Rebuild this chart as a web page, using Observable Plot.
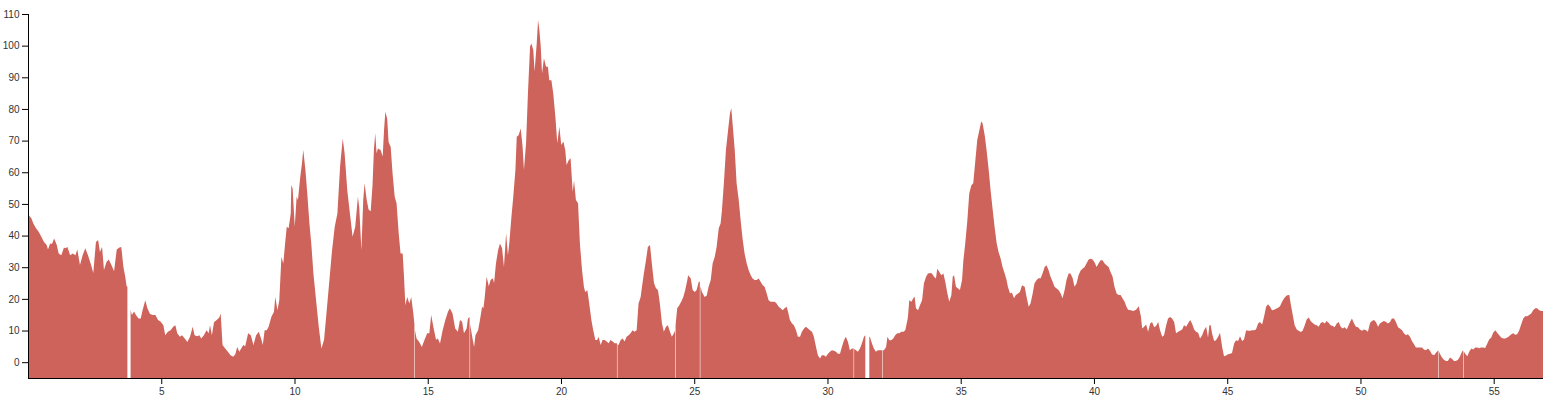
<!DOCTYPE html>
<html>
<head>
<meta charset="utf-8">
<script src="https://cdn.jsdelivr.net/npm/d3@7"></script>
<script src="https://cdn.jsdelivr.net/npm/@observablehq/plot@0.6"></script>
<style>
  html, body { margin: 0; padding: 0; background: #fff; }
  #chart svg { display: block; }
</style>
</head>
<body>
<div id="chart"></div>
<script>
// distance along the x axis and the measured value (null = missing sample)
const distance = [
0.00,0.07,0.13,0.20,0.30,0.40,0.50,0.60,0.70,0.75,0.83,0.90,0.98,1.08,1.15,1.25,1.35,1.40,1.48,1.58,1.68,1.78,1.85,1.95,2.05,2.15,2.25,2.35,2.45,2.55,2.63,2.70,2.78,2.85,2.95,3.03,3.13,3.23,3.33,3.43,3.50,3.58,3.65,3.70,3.73,3.79,
3.85,3.90,3.98,4.05,4.15,4.23,4.30,4.40,4.48,4.58,4.68,4.78,4.88,4.98,5.08,5.15,5.25,5.35,5.45,5.53,5.60,5.70,5.78,5.88,5.98,6.08,6.18,6.25,6.35,6.43,6.50,6.60,6.70,6.78,6.83,6.90,6.98,7.08,7.18,7.23,7.30,7.40,7.50,7.60,7.70,7.78,7.85,7.93,8.00,8.08,8.15,
8.26,8.36,8.46,8.56,8.66,8.76,8.81,8.88,8.96,9.03,9.13,9.23,9.28,9.36,9.43,9.51,9.58,9.66,9.71,9.78,9.86,9.88,9.93,10.01,10.08,10.13,10.21,10.28,10.33,10.41,10.48,10.56,10.63,10.71,10.81,10.91,11.01,11.11,11.21,11.31,11.41,11.51,11.61,11.71,11.81,11.88,11.98,12.08,12.18,12.28,12.38,12.43,12.51,12.58,12.63,12.71,12.78,12.86,12.93,12.98,13.03,13.08,13.13,13.23,13.31,13.36,13.41,13.48,13.53,13.61,13.68,13.76,13.83,13.91,13.98,14.06,14.11,14.16,14.23,14.31,14.38,14.46,14.50,14.51,
14.52,14.58,14.68,14.78,14.88,14.98,15.06,15.13,15.21,15.31,15.38,15.46,15.56,15.66,15.76,15.83,15.93,16.03,16.13,16.21,16.29,16.36,16.46,
16.51,16.57,16.58,16.59,16.69,16.74,16.79,16.89,16.96,17.04,17.09,17.14,17.21,17.29,17.36,17.44,17.49,17.56,17.64,17.71,17.79,17.86,17.94,18.01,18.06,18.14,18.21,18.29,18.34,18.41,18.49,18.56,18.61,18.69,18.76,18.84,18.89,18.96,19.01,19.09,19.14,19.19,19.24,19.29,19.36,19.44,19.51,19.56,19.64,19.71,19.79,19.86,19.94,20.01,20.09,20.16,20.21,20.29,20.36,20.44,20.49,20.56,20.64,20.71,20.79,20.86,20.91,20.99,21.06,21.14,21.21,21.29,21.36,21.41,21.49,21.56,21.64,21.71,21.79,21.86,21.94,22.01,22.10,22.11,
22.12,22.16,22.24,22.31,22.39,22.46,22.54,22.61,22.69,22.76,22.84,22.91,22.99,23.04,23.11,23.19,23.26,23.34,23.41,23.49,23.56,23.64,23.71,23.79,23.86,23.94,24.01,24.09,24.16,24.24,24.28,24.29,
24.30,24.36,24.44,24.51,24.59,24.66,24.74,
24.77,24.87,24.94,25.02,25.09,25.17,25.21,25.22,25.23,25.29,25.39,25.47,25.54,25.62,25.69,25.77,25.84,25.92,25.99,26.04,26.12,26.19,26.27,26.34,26.39,26.44,26.52,26.59,26.67,26.74,26.82,26.89,26.97,27.04,27.12,27.19,27.27,27.34,27.42,27.49,27.57,27.64,27.72,27.79,27.87,27.94,28.02,28.09,28.17,28.24,28.32,28.39,28.47,28.52,28.59,28.67,28.74,28.82,28.89,28.97,29.04,29.12,29.19,29.27,29.34,29.42,29.49,29.57,29.64,29.72,29.79,29.87,29.94,30.02,30.09,30.17,30.24,30.32,30.39,30.47,30.54,30.62,30.69,30.77,30.84,30.92,30.98,30.99,
31.00,31.07,31.14,31.22,31.29,31.37,31.42,31.49,31.57,31.59,31.67,31.74,31.82,31.89,31.97,32.06,32.07,32.08,32.12,32.20,32.25,32.32,32.39,32.47,32.54,32.62,32.70,32.77,32.85,32.92,33.00,
33.02,33.07,33.15,33.22,33.27,33.32,33.40,33.47,33.55,33.62,33.70,33.77,33.85,33.92,34.00,34.07,34.12,34.20,34.27,34.35,34.42,34.50,34.57,34.65,34.70,34.75,34.82,34.90,34.97,35.05,35.10,35.17,35.25,35.32,35.40,35.47,35.55,35.62,35.70,35.77,35.82,35.90,35.97,36.05,36.12,36.20,36.27,36.35,36.42,36.50,36.57,36.65,36.72,36.77,36.85,36.92,37.00,37.07,37.15,37.22,37.30,37.40,37.47,37.55,37.62,37.70,37.77,37.85,37.92,38.00,38.07,38.15,38.22,38.30,38.37,38.45,38.52,38.60,38.67,38.75,38.82,38.90,38.97,39.05,39.12,39.20,39.27,39.35,39.42,39.50,39.57,39.65,39.72,39.80,39.87,39.95,40.02,40.10,40.17,40.25,40.32,40.40,40.47,40.55,40.62,40.70,40.77,40.85,40.92,41.00,41.07,41.15,41.22,
41.28,41.38,41.48,41.58,41.68,41.76,41.81,41.88,41.96,42.03,42.11,42.18,42.26,42.33,42.41,42.48,42.56,42.63,42.71,42.78,42.86,42.93,43.01,43.08,43.16,43.23,43.31,43.38,43.46,43.53,43.61,43.68,43.76,43.83,43.91,43.98,44.06,44.13,44.21,44.28,44.33,44.38,44.43,44.51,44.58,44.66,44.73,44.81,44.88,44.96,45.03,45.11,45.18,45.26,45.33,45.41,45.48,45.56,45.63,45.71,45.78,45.86,45.93,46.01,46.08,46.16,46.23,46.31,46.38,46.46,46.53,46.61,46.68,46.76,46.83,46.91,46.98,47.06,47.13,47.21,47.28,47.33,47.38,47.46,47.53,47.61,47.68,47.76,47.83,47.91,47.98,48.06,48.13,48.21,48.28,48.36,48.43,48.51,48.58,48.66,48.73,48.81,48.88,48.96,49.03,49.11,49.18,49.26,49.33,49.41,49.49,
49.53,49.61,49.68,49.76,49.83,49.91,49.98,50.06,50.13,50.21,50.28,50.36,50.43,50.51,50.58,50.66,50.73,50.81,50.88,50.96,51.03,51.11,51.18,51.26,51.33,51.41,51.48,51.56,51.63,51.71,51.78,51.86,51.93,52.01,52.08,52.16,52.23,52.31,52.38,52.46,52.53,52.61,52.68,52.76,52.83,52.92,52.93,
52.94,52.98,53.06,53.13,53.21,53.28,53.36,53.43,53.51,53.58,53.66,53.73,53.81,53.85,53.86,
53.87,53.93,54.01,54.08,54.16,54.23,54.31,54.38,54.46,54.53,54.61,54.68,54.76,54.83,54.91,54.98,55.06,55.13,55.21,55.28,55.36,55.43,55.51,55.58,55.66,55.73,55.81,55.88,55.96,56.03,56.11,56.18,56.26,56.33,56.41,56.48,56.56,56.63,56.71,56.78,56.85
];
const value = [
46.8,46.0,45.4,43.8,42.3,41.2,39.6,38.0,37.0,35.6,37.5,37.3,39.1,37.0,34.3,33.8,36.2,36.0,36.4,33.8,34.3,33.8,35.6,30.7,33.8,36.0,33.8,31.2,28.2,38.0,38.6,34.8,36.4,29.1,31.7,32.4,30.7,28.7,35.6,36.2,36.4,30.1,27.0,24.0,23.8,null,
16.5,14.9,16.0,14.9,13.8,13.8,16.4,19.6,17.0,15.2,14.9,14.9,13.3,12.8,11.7,8.5,9.6,10.1,11.2,11.7,9.1,8.0,8.5,7.5,6.4,8.0,11.2,8.5,8.2,8.5,7.5,8.5,10.1,9.1,11.7,8.5,12.6,13.3,14.1,15.4,5.4,4.3,3.3,2.2,1.7,2.5,4.8,3.3,4.3,5.4,5.0,
9.1,8.5,5.4,8.5,9.6,7.1,5.4,10.1,10.1,11.2,14.3,15.9,20.6,16.4,19.6,33.3,31.2,38.6,42.8,42.3,47.0,55.9,54.9,42.8,52.3,51.2,58.0,62.8,67.0,60.7,53.3,43.8,37.5,28.0,19.6,11.2,4.3,7.1,16.4,25.9,35.4,42.8,47.0,61.7,70.7,66.0,54.4,47.0,39.6,42.8,52.3,48.9,35.4,51.2,56.5,51.2,48.2,47.7,56.2,67.0,72.3,66.0,67.5,67.0,65.0,73.3,79.1,76.8,69.6,68.0,59.6,52.3,50.2,40.7,34.3,34.3,26.9,18.0,20.6,18.5,20.6,15.4,12.0,null,
10.1,7.5,6.4,4.8,7.1,9.1,9.1,14.9,11.2,7.1,7.5,5.9,10.1,13.3,15.9,17.0,15.4,10.6,9.6,13.3,12.8,9.1,10.6,
13.8,14.3,null,12.0,7.0,4.8,8.5,10.1,13.3,17.5,17.0,20.6,27.0,24.0,26.0,26.5,25.0,31.2,35.4,37.5,36.0,30.1,40.7,33.8,37.5,45.9,52.3,60.7,71.2,71.7,73.8,68.0,60.7,69.2,84.9,99.7,100.7,98.6,91.8,100.7,108.1,104.9,99.7,91.2,96.0,93.3,93.3,89.1,89.1,84.9,77.5,69.2,74.4,68.6,69.7,67.0,62.3,63.8,64.4,53.8,57.4,51.2,50.2,37.5,29.1,23.8,22.2,22.7,18.5,13.3,10.1,7.0,7.0,8.0,5.4,7.0,7.0,6.5,6.0,7.0,6.5,6.0,6.0,null,
5.6,5.4,7.0,7.5,6.5,8.0,8.5,9.1,10.1,9.6,10.1,18.5,20.6,23.8,28.0,32.2,36.4,37.0,31.2,25.0,23.4,22.7,18.5,12.2,9.6,11.2,11.7,9.6,8.0,9.1,10.0,null,
11.7,17.0,18.0,19.1,20.6,22.7,25.9,
27.5,26.4,22.8,22.2,22.8,25.4,25.4,null,24.0,22.2,20.6,21.1,23.8,26.0,31.2,33.3,36.4,42.3,43.8,48.0,57.5,67.0,73.3,78.6,80.2,75.3,67.0,56.5,51.2,44.9,38.6,34.3,31.2,29.1,27.5,26.4,26.0,26.0,26.4,25.4,24.3,23.8,21.7,19.6,19.1,19.1,19.1,18.5,17.5,17.0,16.4,17.0,17.5,15.9,13.3,12.2,11.7,10.1,8.0,8.0,9.6,10.6,11.2,10.6,10.1,9.6,8.0,4.8,2.2,1.2,2.2,2.2,1.7,2.7,3.3,3.8,3.6,3.3,2.7,2.7,4.8,6.9,8.0,6.4,3.8,4.3,4.3,null,
4.2,3.8,3.3,4.3,5.9,8.0,8.5,null,8.0,8.0,5.9,4.3,3.3,3.8,3.8,3.8,null,3.8,3.8,4.8,8.0,6.9,6.9,7.5,8.5,9.1,9.1,9.6,9.6,10.1,13.3,
14.3,19.6,19.1,20.2,20.7,17.0,16.4,18.0,19.6,24.9,27.0,28.0,28.2,28.0,27.0,26.4,29.5,28.5,27.5,28.0,25.4,21.7,19.1,21.2,27.0,27.5,23.8,23.3,22.8,26.0,32.2,37.5,44.9,53.3,55.9,56.5,63.8,70.2,73.3,76.0,75.5,71.7,67.0,60.7,54.4,48.1,42.8,37.5,34.8,32.7,30.1,28.0,26.0,23.8,21.7,22.0,20.2,21.2,21.7,22.2,24.3,23.8,20.7,17.5,18.5,21.7,24.9,26.0,26.5,26.5,28.0,30.1,30.6,29.0,27.0,25.4,23.8,23.3,22.8,21.7,20.2,22.8,26.0,28.0,28.0,26.5,23.8,24.9,27.5,29.0,29.5,30.1,31.2,32.4,32.7,32.4,31.6,30.1,31.2,32.2,32.2,31.2,30.6,30.1,28.5,27.0,23.8,21.7,21.2,21.2,20.2,19.1,17.5,
16.6,16.4,16.2,16.6,17.7,14.5,10.6,11.2,11.9,9.6,12.2,12.7,11.0,11.4,12.7,10.1,8.0,8.5,11.7,13.8,14.3,13.8,12.7,9.1,9.6,9.9,10.3,11.7,11.2,12.2,13.3,12.2,10.3,9.6,9.3,7.5,8.5,10.1,11.2,7.8,11.7,11.7,9.1,6.7,6.9,8.0,9.3,4.8,1.9,2.1,2.5,2.7,2.9,5.9,6.9,6.7,8.2,6.7,7.2,10.1,9.9,9.9,10.1,10.1,10.3,12.2,12.7,11.9,14.3,17.5,18.3,17.5,16.4,16.6,16.9,17.2,17.7,19.1,20.1,20.9,21.2,21.2,18.5,14.9,11.7,10.3,9.9,9.5,9.9,11.7,13.5,14.1,13.0,12.4,11.9,11.7,11.2,12.4,12.7,12.2,13.0,12.4,11.7,11.4,11.0,12.2,12.7,11.2,10.6,11.0,10.3,
11.2,12.7,13.8,12.2,11.2,11.0,10.3,9.9,10.3,10.1,9.6,12.4,13.0,13.3,12.7,11.2,12.2,12.7,13.0,12.7,12.2,12.7,13.8,13.8,12.7,11.0,10.6,10.1,9.1,8.5,8.8,8.0,6.7,5.7,4.6,4.6,4.6,4.6,4.0,3.8,4.3,3.6,2.5,2.2,2.9,3.8,null,
3.5,2.7,1.5,0.8,0.4,0.4,1.5,1.1,0.4,0.4,0.8,1.7,3.3,3.8,null,
3.5,2.7,1.9,3.3,4.3,4.0,4.6,4.6,4.4,4.6,4.6,4.5,5.9,7.2,7.8,9.3,10.1,9.3,8.5,7.8,7.5,7.5,7.8,8.2,8.8,9.1,8.7,8.8,10.1,11.9,13.8,14.5,14.5,14.9,15.4,16.4,17.0,17.0,16.4,16.2,16.2
];
const xTicks = [5, 10, 15, 20, 25, 30, 35, 40, 45, 50, 55];
const yTicks = [0, 10, 20, 30, 40, 50, 60, 70, 80, 90, 100, 110];
const xDomain = [0, 56.85];
const yDomain = [-5, 110];
const fillColor = "#cd635a";

const data = distance.map((d, i) => ({x: d, y: value[i]}));

const chart = Plot.plot({
  width: 1544,
  height: 400,
  marginLeft: 28,
  marginTop: 14,
  marginRight: 1,
  marginBottom: 22,
  style: {fontFamily: "'Liberation Sans', Arial, sans-serif", fontSize: "10px", background: "#fff", color: "#000"},
  x: {domain: xDomain},
  y: {domain: yDomain},
  marks: [
    Plot.areaY(data, {x: "x", y1: yDomain[0], y2: "y", fill: fillColor, curve: "linear"}),
    Plot.ruleX([xDomain[0]], {stroke: "#000"}),
    Plot.ruleY([yDomain[0]], {stroke: "#000"}),
    Plot.axisX({ticks: xTicks, tickSize: 6, label: null, fill: "#333"}),
    Plot.axisY({ticks: yTicks, tickSize: 6, label: null, fill: "#333"})
  ]
});
document.getElementById("chart").appendChild(chart);
</script>
</body>
</html>
